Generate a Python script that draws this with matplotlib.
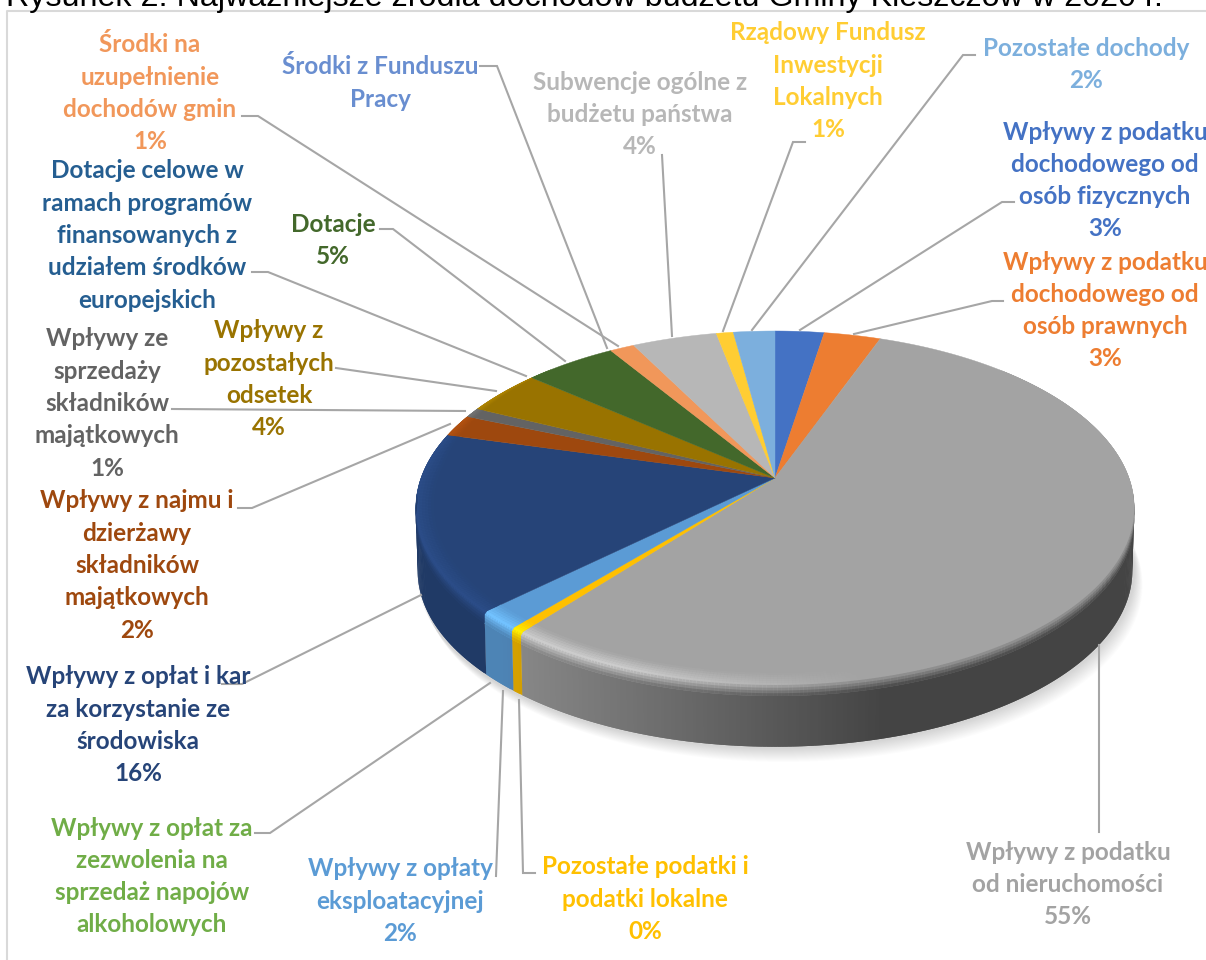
import numpy as np
import matplotlib
matplotlib.use("Agg")
import matplotlib.pyplot as plt
from matplotlib.colors import to_rgb

title = "Rysunek 2. Najważniejsze źródła dochodów budżetu Gminy Kleszczów w 2020 r."

labels = [
    "Wpływy z podatku\ndochodowego od\nosób fizycznych",
    "Wpływy z podatku\ndochodowego od\nosób prawnych",
    "Wpływy z podatku\nod nieruchomości",
    "Pozostałe podatki i\npodatki lokalne",
    "Wpływy z opłaty\neksploatacyjnej",
    "Wpływy z opłat za\nzezwolenia na\nsprzedaż napojów\nalkoholowych",
    "Wpływy z opłat i kar\nza korzystanie ze\nśrodowiska",
    "Wpływy z najmu i\ndzierżawy\nskładników\nmajątkowych",
    "Wpływy ze\nsprzedaży\nskładników\nmajątkowych",
    "Wpływy z\npozostałych\nodsetek",
    "Dotacje celowe w\nramach programów\nfinansowanych z\nudziałem środków\neuropejskich",
    "Dotacje",
    "Środki na\nuzupełnienie\ndochodów gmin",
    "Środki z Funduszu\nPracy",
    "Subwencje ogólne z\nbudżetu państwa",
    "Rządowy Fundusz\nInwestycji\nLokalnych",
    "Pozostałe dochody",
]
values = [2.6, 3.0, 55.1, 0.5, 1.7, 0.0, 16.3, 2.0, 0.9, 4.1, 0.0, 4.9, 1.3, 0.0, 4.5, 0.9, 2.2]
shown = ["3%", "3%", "55%", "0%", "2%", "", "16%", "2%", "1%", "4%", "", "5%", "1%", "", "4%", "1%", "2%"]
colors = ["#4472C4", "#ED7D31", "#A3A3A3", "#FFC000", "#5B9BD5", "#70AD47", "#264478", "#9E480E",
          "#636363", "#997300", "#255E91", "#43682B", "#F1975A", "#698ED0", "#B7B7B7", "#FFCD33", "#7CAFDD"]

# centre x and first line y of each label, pixels
label_pos = [(1105, 132), (1105, 262), (1068, 852), (645, 867), (400, 869), (152, 828), (138, 677), (137, 501),
             (107, 339), (269, 331), (147, 171), (333, 224), (150, 45), (380, 67), (640, 82), (828, 33), (1086, 48)]
leaders = [
    [(1014, 202), (1002, 202), (800, 330)],
    [(1003, 301), (992, 301), (854, 334)],
    [(1099, 645), (1099, 832)],
    [(535, 873), (523, 873), (519, 700)],
    [(496, 876), (503, 691)],
    [(255, 833), (270, 833), (490, 683)],
    [(222, 684), (242, 684), (421, 595)],
    [(238, 508), (252, 508), (450, 424)],
    [(172, 409), (465, 411)],
    [(336, 368), (350, 370), (496, 391)],
    [(252, 272), (268, 272), (526, 376)],
    [(380, 229), (393, 229), (565, 361)],
    [(242, 116), (258, 116), (618, 346)],
    [(480, 66), (497, 66), (607, 348)],
    [(662, 155), (672, 336)],
    [(805, 142), (793, 142), (723, 331)],
    [(975, 55), (963, 55), (752, 330)],
]

APEX = (775, 478)
K, A, C = 354, -90.9, 0.1695
DEPTH = 63
LINE = 32.3


def project(theta, r=1.0, drop=0.0):
    # pie plane to pixels, with the perspective of the 3D chart
    t = np.radians(theta)
    u, v = r * np.sin(t), r * np.cos(t)
    w = 1 + C * v
    return APEX[0] + K * u / w, (A * v + APEX[1]) / w + drop


def wall_factor(x):
    return np.interp(x, [500, 880], [0.85, 0.42])


def mix(a, b, t):
    return tuple(a[i] + (b[i] - a[i]) * t for i in range(3))


fig = plt.figure(figsize=(12.06, 9.6), dpi=100)
ax = fig.add_axes([0, 0, 1, 1])
ax.set_xlim(0, 1206)
ax.set_ylim(960, 0)
ax.axis("off")

# chart frame
ax.plot([7, 7, 1206], [960, 11, 11], color="#d9d9d9", lw=1.5, zorder=1)

# soft shadow under the pie
ring = np.linspace(0, 360, 361)
for k in range(1, 15):
    x, y = project(ring, 1.0, DEPTH + k)
    ax.fill(x + k * 0.6, y, color="black", alpha=0.011, lw=0, zorder=1)

ends = np.cumsum(values) / np.sum(values) * 360
starts = np.concatenate([[0], ends[:-1]])

# top face of the pie
for a0, a1, col in zip(starts, ends, colors):
    if a1 <= a0:
        continue
    th = np.linspace(a0, a1, max(3, int(a1 - a0) * 2))
    x, y = project(th)
    ax.fill(np.r_[APEX[0], x], np.r_[APEX[1], y], color=col, lw=0.3, zorder=3)

# wall and rounded bevel, each strip overlaps the next one so no seams show
for a0, a1, col in zip(starts, ends, colors):
    if a1 <= a0:
        continue
    base = to_rgb(col)
    steps = np.append(np.arange(a0, a1, 0.5), a1)
    for s0, s1 in zip(steps[:-1], steps[1:]):
        mid = (s0 + s1) / 2
        s2 = min(s1 + 0.5, a1)
        x0, y0 = project(s0)
        x1, y1 = project(s2)
        f = wall_factor((x0 + x1) / 2)
        wall = tuple(c * f for c in base)
        if 95 < mid < 265:
            x2, y2 = project(s2, 0.995, DEPTH)
            x3, y3 = project(s0, 0.995, DEPTH)
            ax.fill([x0, x1, x2, x3], [y0, y1, y2, y3], color=wall, lw=0, zorder=2)
        if 45 < mid < 315:
            fade = min(1, min(mid - 45, 315 - mid) / 40)
            width = 0.05 * fade
            gain = np.interp((x0 + x1) / 2, [620, 860], [1.25, 1.0])
            # dark slices get less of the highlight
            gain = 1 + (gain - 1) * min(1, np.mean(base) / 0.6)
            light = tuple(min(1, c * gain) for c in base)
            drop_end = 11 if 95 < mid < 265 else 0
            tt = np.linspace(0, 1, 11)
            for t0, t1 in zip(tt[:-1], tt[1:]):
                t2 = min(t1 + 0.1, 1)
                tm = (t0 + t1) / 2
                if tm < 0.55:
                    c = mix(base, light, tm / 0.55)
                else:
                    c = mix(light, wall, (tm - 0.55) / 0.45)
                xs, ys = [], []
                for ang, t in [(s0, t0), (s2, t0), (s2, t2), (s0, t2)]:
                    if t < 0.6:
                        px, py = project(ang, 1 - width * (1 - t / 0.6))
                    else:
                        px, py = project(ang, 1.0, drop_end * (t - 0.6) / 0.4)
                    xs.append(px)
                    ys.append(py)
                ax.fill(xs, ys, color=c, lw=0, zorder=4)

# leader lines
for pts in leaders:
    ax.plot([p[0] for p in pts], [p[1] for p in pts], color="#a6a6a6", lw=1.5, zorder=5,
            solid_joinstyle="miter")

# data labels, one text per line so the spacing follows the reference
for lab, pct, col, (cx, cy) in zip(labels, shown, colors, label_pos):
    lines = lab.split("\n") + ([pct] if pct else [])
    for i, line in enumerate(lines):
        ax.text(cx, cy + i * LINE, line, color=col, ha="center", va="center",
                fontsize=17.5, fontweight="bold", family="Lato", zorder=6)

ax.text(6, 6, title, fontsize=23.2, family="Liberation Sans", color="black", va="baseline", ha="left", zorder=6)

fig.savefig("out.png", dpi=100)
